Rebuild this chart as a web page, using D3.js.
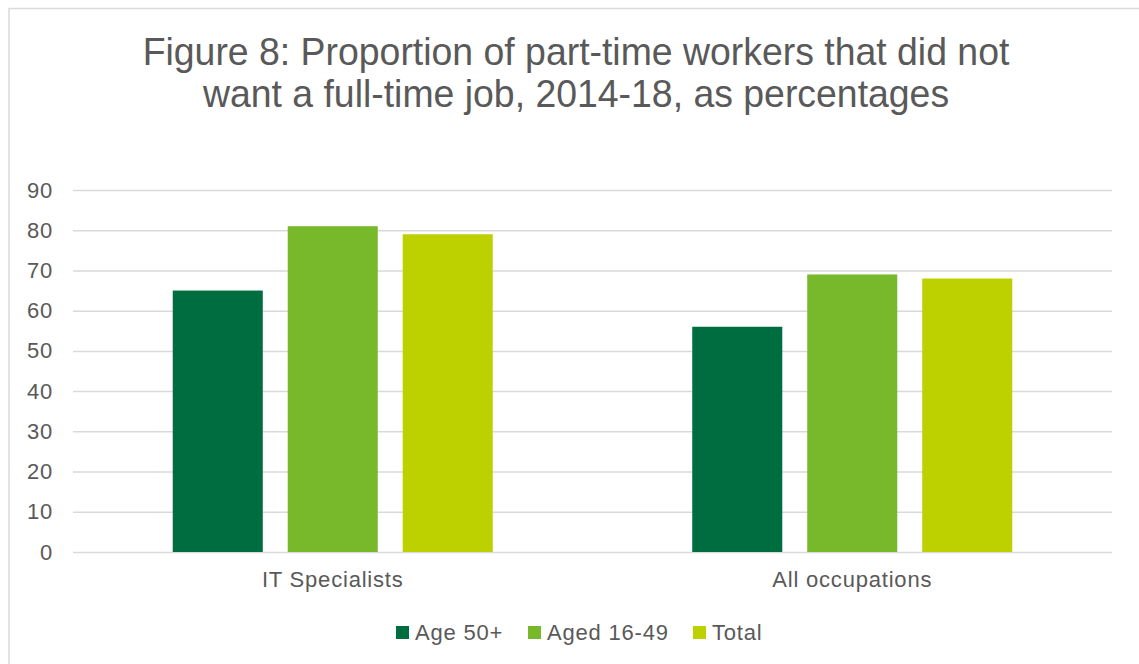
<!DOCTYPE html>
<html>
<head>
<meta charset="utf-8">
<script src="https://cdn.jsdelivr.net/npm/d3@7"></script>
<style>
  html, body { margin: 0; padding: 0; background: #fff; }
  svg { display: block; font-family: "Liberation Sans", Arial, sans-serif; }
</style>
</head>
<body>
<svg id="chart" width="1139" height="664"></svg>
<script>
// Chart data
const categories = ["IT Specialists", "All occupations"];
const seriesNames = ["Age 50+", "Aged 16-49", "Total"];
const age50plus = [65, 56];
const aged16to49 = [81, 69];
const totalValues = [79, 68];
const yTicks = [0, 10, 20, 30, 40, 50, 60, 70, 80, 90];
const titleLines = [
  "Figure 8: Proportion of part-time workers that did not",
  "want a full-time job, 2014-18, as percentages"
];

const seriesValues = [age50plus, aged16to49, totalValues];
const colors = ["#006d41", "#78b82b", "#bdd000"];
const textColor = "#595959";
const gridColor = "#d9d9d9";
const smallFont = 22;
const smallSpacing = "0.8px";

const svg = d3.select("#chart");
const W = 1139, H = 664;

// Outer frame
svg.append("rect")
  .attr("x", 9).attr("y", 8.5)
  .attr("width", W + 10).attr("height", H + 10)
  .attr("fill", "#fff")
  .attr("stroke", gridColor).attr("stroke-width", 1.5);

// Title (slightly condensed)
svg.append("g")
  .attr("transform", "translate(576,0) scale(0.947,1)")
  .selectAll("text")
  .data(titleLines)
  .join("text")
  .attr("x", 0)
  .attr("y", (d, i) => 65 + i * 42)
  .attr("text-anchor", "middle")
  .attr("fill", textColor)
  .attr("font-size", 39.5)
  .text(d => d);

// Plot area
const plot = { left: 73, right: 1112, top: 190, bottom: 552 };

const y = d3.scaleLinear()
  .domain([0, 90])
  .range([plot.bottom, plot.top]);

const x0 = d3.scaleBand()
  .domain(categories)
  .range([plot.left, plot.right])
  .paddingInner(0.384)
  .paddingOuter(0.192);

const x1 = d3.scaleBand()
  .domain(seriesNames)
  .range([0, x0.bandwidth()])
  .paddingInner(0.217)
  .paddingOuter(0);

// Gridlines and value labels
const yAxis = d3.axisLeft(y)
  .tickValues(yTicks)
  .tickSize(-(plot.right - plot.left))
  .tickPadding(20)
  .tickFormat(d3.format("d"));

const gAxis = svg.append("g")
  .attr("transform", `translate(${plot.left},0)`)
  .call(yAxis);
gAxis.select(".domain").remove();
gAxis.selectAll(".tick line")
  .attr("stroke", gridColor)
  .attr("stroke-width", 1.5);
gAxis.selectAll(".tick text")
  .attr("fill", textColor)
  .attr("font-size", smallFont)
  .attr("letter-spacing", smallSpacing)
  .attr("font-family", "Liberation Sans, Arial, sans-serif");

// Bars
const groups = svg.append("g").selectAll("g")
  .data(categories)
  .join("g")
  .attr("transform", d => `translate(${x0(d)},0)`);

groups.selectAll("rect")
  .data((d, ci) => seriesNames.map((s, si) => ({ s, si, v: seriesValues[si][ci] })))
  .join("rect")
  .attr("x", d => x1(d.s))
  .attr("y", d => y(d.v))
  .attr("width", x1.bandwidth())
  .attr("height", d => y(0) - y(d.v))
  .attr("fill", d => colors[d.si]);

// Category labels
svg.append("g").selectAll("text")
  .data(categories)
  .join("text")
  .attr("x", d => x0(d) + x0.bandwidth() / 2)
  .attr("y", 587)
  .attr("text-anchor", "middle")
  .attr("fill", textColor)
  .attr("font-size", smallFont)
  .attr("letter-spacing", smallSpacing)
  .text(d => d);

// Legend
const legendX = [396, 528, 693];
const legend = svg.append("g").selectAll("g")
  .data(seriesNames)
  .join("g")
  .attr("transform", (d, i) => `translate(${legendX[i]},626)`);
legend.append("rect")
  .attr("width", 13).attr("height", 13)
  .attr("fill", (d, i) => colors[i]);
legend.append("text")
  .attr("x", 19).attr("y", 13.5)
  .attr("fill", textColor)
  .attr("font-size", smallFont)
  .attr("letter-spacing", smallSpacing)
  .text(d => d);
</script>
</body>
</html>
